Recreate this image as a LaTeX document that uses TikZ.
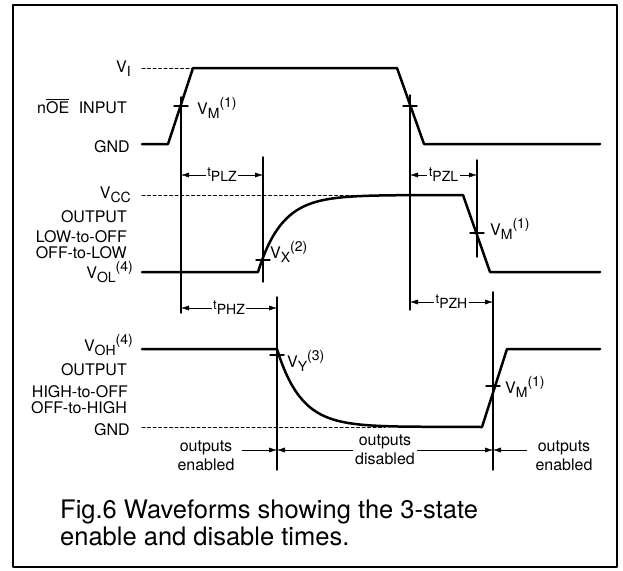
\documentclass[tikz,border=0pt]{standalone}
\usepackage{fontspec}
\setmainfont{TeX Gyre Heros}
\usetikzlibrary{arrows.meta}
\newcommand\subx[1]{\raisebox{-0.3em}{\fontsize{14}{14}\selectfont#1}}
\newcommand\supx[1]{\raisebox{0.4em}{\fontsize{14}{14}\selectfont#1}}
\newcommand\tsub[1]{{\fontsize{13}{13}\selectfont t}\subx{#1}}
\begin{document}
\begin{tikzpicture}[
		x = 1pt,
		y = -1pt,
		line join = round,
		line cap = round,
		> = {Latex[length=8pt,width=5pt]},
		wave/.style = {line width=2.5pt},
		guide/.style = {line width=1.4pt},
		level/.style = {line width=1pt, dash pattern=on 3pt off 2.5pt},
		lbl/.style = {anchor=base east, inner sep=0pt, font=\fontsize{16}{18}\selectfont},
		vlbl/.style = {anchor=base west, inner sep=0pt, font=\fontsize{16}{18}\selectfont},
		tlbl/.style = {fill=white, inner sep=1.5pt, font=\fontsize{16}{18}\selectfont},
		state/.style = {align=center, inner sep=2pt, font=\fontsize{16}{19}\selectfont},
		]
\useasboundingbox (0,0) rectangle (623,570);
\draw[line width=2pt]	(13,5) rectangle (617,567);

% time markers
\foreach \n/\x/\ya/\yb in {oeR/181/97/313, vx/263/157/282, oeF/410/95/310,
		vm/477/160/257, vy/277/297/470, vmb/493/292/470}
	\draw[guide]	(\x,\ya) coordinate (\n-top) -- (\x,\yb) coordinate (\n-bot);
\foreach \x/\y in {181/106, 410/106, 263/260, 477/233, 277/355, 493/386}
	\draw[guide]	(\x-7,\y) -- (\x+7,\y);

% waveforms
\draw[wave]	(142,144) -- (168,144) -- (193,68) -- (397,68) -- (424,144) -- (600,144);
\draw[level]	(142,68) -- (193,68);
\draw[wave]	(142,272) -- (258,272)
		-- plot[domain=258:400, samples=60, smooth] (\x,{195+77*exp(-(\x-258)/24)})
		-- (463,195) -- (490,272) -- (600,272);
\draw[level]	(142,195) -- (385,195);
\draw[wave]	(142,349) -- (277,349)
		-- plot[domain=277:410, samples=60, smooth] (\x,{427-78*exp(-(\x-277)/24)})
		-- (482,427) -- (507,349) -- (600,349);
\draw[level]	(142,427) -- (385,427);

% levels
\node[lbl] (vi)   at (131,72)  {V\subx{I}};
\node[lbl] (oe)   at (127,113) {n$\overline{\mbox{OE}}$\hspace{0.6em}INPUT};
\node[lbl] (gndA) at (130,152) {GND};
\node[lbl] (vcc)  at (131,198) {V\subx{CC}};
\node[lbl] (outA) at (127,222) {OUTPUT};
\node[lbl] (lozA) at (127,242) {LOW-to-OFF};
\node[lbl] (lozB) at (127,258) {OFF-to-LOW};
\node[lbl] (vol)  at (133,278) {V\subx{OL}\supx{(4)}};
\node[lbl] (voh)  at (133,351) {V\subx{OH}\supx{(4)}};
\node[lbl] (outB) at (127,375) {OUTPUT};
\node[lbl] (hizA) at (128,397) {HIGH-to-OFF};
\node[lbl] (hizB) at (127,413) {OFF-to-HIGH};
\node[lbl] (gndB) at (130,435) {GND};

\node[vlbl] (vmA) at (197,114) {V\subx{M}\supx{(1)}};
\node[vlbl] (vxA) at (270,258) {V\subx{X}\supx{(2)}};
\node[vlbl] (vmB) at (490,235) {V\subx{M}\supx{(1)}};
\node[vlbl] (vyA) at (287,367) {V\subx{Y}\supx{(3)}};
\node[vlbl] (vmC) at (505,393) {V\subx{M}\supx{(1)}};

% delays
\coordinate (rowZ)  at (0,175);
\coordinate (rowHZ) at (0,308);
\coordinate (rowZH) at (0,302);
\draw[<->]	(oeR-top |- rowZ) -- (vx-top |- rowZ)	node[midway, tlbl] (plz) {\tsub{PLZ}};
\draw[<->]	(oeF-top |- rowZ) -- (vm-top |- rowZ)	node[midway, tlbl] (pzl) {\tsub{PZL}};
\draw[<->]	(oeR-top |- rowHZ) -- (vy-top |- rowHZ)	node[midway, tlbl] (phz) {\tsub{PHZ}};
\draw[<->]	(oeF-top |- rowZH) -- (vmb-top |- rowZH)	node[midway, tlbl] (pzh) {\tsub{PZH}};

% output states
\coordinate (rowOut) at (0,450);
\node[state] (enA) at (206,456) {outputs\\enabled};
\node[state] (enB) at (564,456) {outputs\\enabled};
\coordinate (enAR) at (242,450);
\coordinate (enBL) at (527,450);
\draw[->]	(enAR) -- (vy-bot |- rowOut);
\draw[<->]	(vy-bot |- rowOut) -- (vmb-bot |- rowOut)
		node[midway, state, fill=white] (dis) {outputs\\disabled};
\draw[->]	(enBL) -- (vmb-bot |- rowOut);

% caption
\node[anchor=base west, inner sep=0pt, font=\fontsize{25.5}{27}\selectfont] (capA) at (60,518)
		{Fig.6 Waveforms showing the 3-state};
\node[anchor=base west, inner sep=0pt, font=\fontsize{25.5}{27}\selectfont] (capB) at (60,545)
		{enable and disable times.};
\end{tikzpicture}
\end{document}
